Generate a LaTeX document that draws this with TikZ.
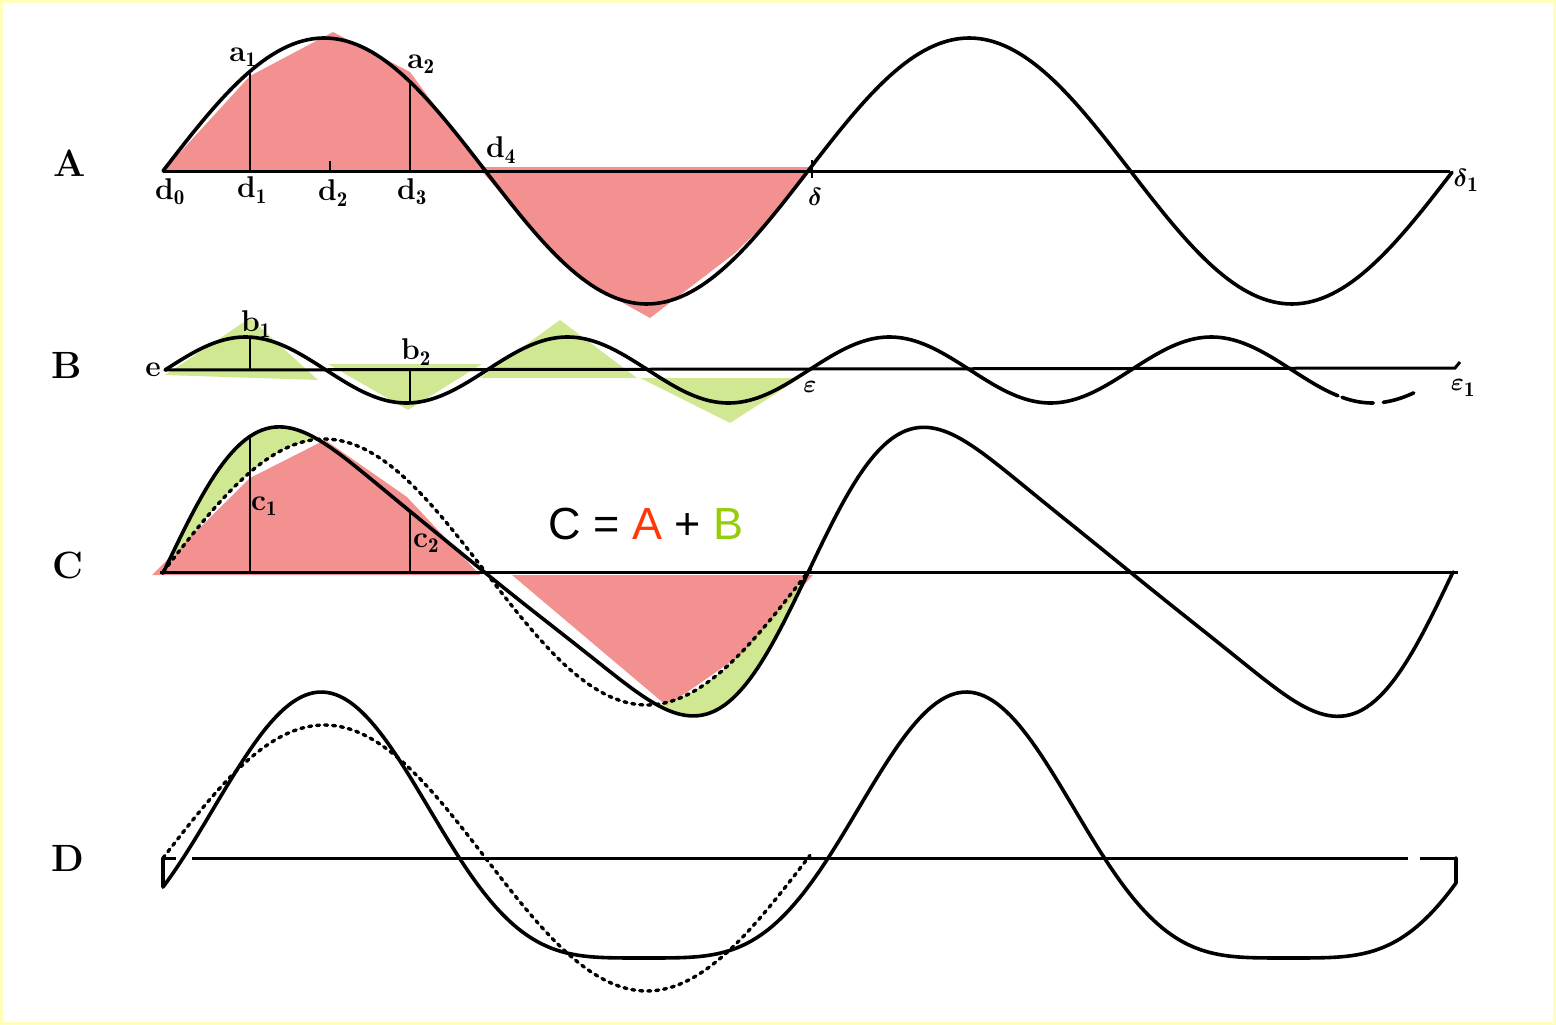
\documentclass[tikz,border=0pt]{standalone}
\usepackage{amsmath}
\usepackage{fontspec}
\usepackage{tikz}
\usetikzlibrary{positioning}
\newfontfamily\eqfont{Liberation Sans}
\definecolor{hatchred}{RGB}{243,145,145}
\definecolor{hatchgreen}{RGB}{202,228,128}
\definecolor{sumred}{RGB}{255,55,10}
\definecolor{sumgreen}{RGB}{150,205,10}
\definecolor{scanyellow}{RGB}{255,255,185}

\begin{document}
\begin{tikzpicture}[
    x=1pt, y=-1pt,
    declare function={
      wa(\t)=133*sin((\t-163)/645*360);
      wb(\t)=33*sin((\t-165)/322*360);
      wc(\t)=wa(\t)+wb(\t)+5.5*sin((\t-163)/215*360);
      wd(\t)=133*sin((\t-160)/645*360)-33*cos((\t-160)/645*720);
    },
    curve/.style      = {line width=3.6pt, line join=round, line cap=round},
    axis/.style       = {line width=3pt},
    ordinate/.style   = {line width=2.2pt},
    ghost/.style      = {line width=3.4pt, dash pattern=on 3pt off 5pt, line cap=round},
    redhatch/.style   = {fill=hatchred},
    greenhatch/.style = {fill=hatchgreen, fill opacity=0.85},
    rowlabel/.style   = {font=\fontsize{38}{42}\selectfont\bfseries, inner sep=0pt},
    ptlabel/.style    = {font=\fontsize{30}{34}\selectfont\bfseries, inner sep=0pt},
]
\useasboundingbox (0,0) rectangle (1556,1025);
\fill[white] (0,0) rectangle (1556,1025);
\draw[scanyellow, line width=6pt] (0,0) rectangle (1556,1025);

% shaded lobes
\fill[redhatch] (163,171) -- (250,76) -- (333,32) -- (410,72) -- (483,171) -- cycle;
\fill[redhatch] (478,167) -- (812,167) -- (775,214) -- (735,253) -- (650,318)
   -- (600,290) -- (565,264) -- (520,215) -- cycle;
\fill[greenhatch] (165,375) -- (250,318) -- (318,380) -- cycle;
\fill[greenhatch] (328,364) -- (482,364) -- (408,410) -- cycle;
\fill[greenhatch] (480,378) -- (560,320) -- (637,378) -- cycle;
\fill[greenhatch] (640,378) -- (800,378) -- (730,423) -- cycle;
\fill[redhatch] (152,575) -- (250,478) -- (325,440) -- (407,497) -- (480,575) -- cycle;
\fill[redhatch] (512,575) -- (813,575) -- (745,652) -- (667,706) -- cycle;
\fill[greenhatch] plot[domain=166:322, samples=60] (\x,{572-wc(\x)})
   -- plot[domain=322:166, samples=60] (\x,{572-wa(\x)}) -- cycle;
\fill[greenhatch] plot[domain=652:805, samples=60] (\x,{572-wc(\x)})
   -- plot[domain=805:652, samples=60] (\x,{572-wa(\x)}) -- cycle;

% row A
\draw[axis] (163,171) -- (1450,171);
\draw[curve] plot[domain=163:1452, samples=260] (\x,{171-wa(\x)});
\draw[ordinate] (250,171) -- (250,{171-wa(250)});
\draw[ordinate] (410,171) -- (410,{171-wa(410)});
\draw[ordinate] (330,171) -- (330,161);
\draw[ordinate] (812,160) -- (812,178);

% row B
\draw[axis] (165,370) -- (1455,368) -- (1460,362);
\draw[curve] plot[domain=165:1338, samples=300] (\x,{370-wb(\x)});
\draw[curve, dash pattern=on 32pt off 10pt] plot[domain=1342:1414, samples=30] (\x,{370-wb(\x)});
\draw[ordinate] (250,370) -- (250,{370-wb(250)});
\draw[ordinate] (410,370) -- (410,{370-wb(410)});

% row C
\draw[axis] (160,572) -- (1458,572);
\draw[ghost] plot[domain=163:812, samples=140] (\x,{572-wa(\x)});
\draw[curve] plot[domain=163:1453, samples=300] (\x,{572-wc(\x)});
\draw[ordinate] (250,572) -- (250,{572-wc(250)});
\draw[ordinate] (410,572) -- (410,{572-wc(410)});

% row D
\draw[axis] (163,858) -- (176,858) (192,858) -- (1408,858) (1420,858) -- (1456,858);
\draw[ghost] plot[domain=163:810, samples=140] (\x,{858-wa(\x)});
\draw[curve] (163,858) -- (163,{858-wd(163)})
   -- plot[domain=163:1456, samples=300] (\x,{858-wd(\x)}) -- (1456,858);

% labels
\node[rowlabel] (rowA) at (70,163) {A};
\node[rowlabel] (rowB) at (67,365) {B};
\node[rowlabel] (rowC) at (68,565) {C};
\node[rowlabel] (rowD) at (68,858) {D};

\node[ptlabel] (a1) at (243,57) {a$_{\mathbf 1}$};
\node[ptlabel] (a2) at (421,64) {a$_{\mathbf 2}$};
\node[ptlabel] (d0) at (170,192) {d$_{\mathbf 0}$};
\node[ptlabel] (d1) at (252,190) {d$_{\mathbf 1}$};
\node[ptlabel] (d2) at (333,193) {d$_{\mathbf 2}$};
\node[ptlabel] (d3) at (412,192) {d$_{\mathbf 3}$};
\node[ptlabel] (d4) at (501,150) {d$_{\mathbf 4}$};
\node[ptlabel] (delta)  at (815,197) {$\boldsymbol{\delta}$};
\node[ptlabel] (delta1) at (1466,180) {$\boldsymbol{\delta}_{\mathbf 1}$};

\node[ptlabel] (b1) at (256,324) {b$_{\mathbf 1}$};
\node[ptlabel] (b2) at (416,352) {b$_{\mathbf 2}$};
\node[ptlabel] (e0) at (153,370) {e};
\node[ptlabel] (eps)  at (810,387) {$\boldsymbol{\varepsilon}$};
\node[ptlabel] (eps1) at (1463,388) {$\boldsymbol{\varepsilon}_{\mathbf 1}$};

\node[ptlabel] (c1) at (264,506) {c$_{\mathbf 1}$};
\node[ptlabel] (c2) at (426,543) {c$_{\mathbf 2}$};

\node[font=\eqfont\fontsize{45}{50}\selectfont, inner sep=0pt] (sumrule) at (646,524)
   {C = \textcolor{sumred}{A} + \textcolor{sumgreen}{B}};
\end{tikzpicture}
\end{document}
